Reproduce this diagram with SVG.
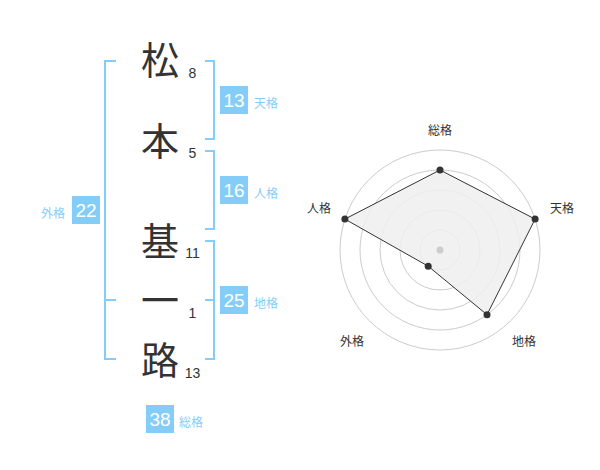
<svg xmlns="http://www.w3.org/2000/svg" width="600" height="470" viewBox="0 0 600 470">
<style>
.ch{font-family:"Noto Sans CJK JP","Noto Sans CJK SC",sans-serif;font-size:38px;fill:#333;text-anchor:middle}
.num{font-family:"Liberation Sans",Arial,sans-serif;font-size:14px;fill:#333;text-anchor:middle}
.br{fill:none;stroke:#85cdf9;stroke-width:2}
.box{fill:#85cdf9}
.bt{font-family:"Liberation Sans",Arial,sans-serif;font-size:19px;fill:#fff;text-anchor:middle}
.lb{font-family:"Noto Sans CJK JP","Noto Sans CJK SC",sans-serif;font-size:12px;fill:#85cdf9}
.ring{fill:none;stroke:#ccc;stroke-width:1}
.rl{font-family:"Noto Sans CJK JP","Noto Sans CJK SC",sans-serif;font-size:12px;fill:#333;text-anchor:middle}
</style>
<rect width="600" height="470" fill="#fff"/>
<g id="chars">
<text class="ch" x="160" y="74">松</text>
<text class="ch" x="160" y="155">本</text>
<text class="ch" x="160" y="255">基</text>
<text class="ch" x="160" y="314">一</text>
<text class="ch" x="160" y="374">路</text>
</g>
<g id="strokes">
<text class="num" x="192.5" y="78">8</text>
<text class="num" x="192.5" y="158">5</text>
<text class="num" x="192.5" y="258">11</text>
<text class="num" x="192.5" y="318">1</text>
<text class="num" x="192.5" y="378">13</text>
</g>
<g id="connectors">
<path class="br" d="M116,61 H105 V359 H116 M105,300 H116"/>
<path class="br" d="M205,61 H214 V139 H205"/>
<path class="br" d="M205,151 H214 V229 H205"/>
<path class="br" d="M205,241 H214 V359 H205 M205,300 H214"/>
</g>
<g id="tenkaku">
<rect class="box" x="220" y="86" width="28" height="28"/>
<text class="bt" x="234" y="107">13</text>
<text class="lb" x="254" y="108">天格</text>
</g>
<g id="jinkaku">
<rect class="box" x="220" y="176" width="28" height="28"/>
<text class="bt" x="234" y="197">16</text>
<text class="lb" x="254" y="198">人格</text>
</g>
<g id="chikaku">
<rect class="box" x="220" y="286" width="28" height="28"/>
<text class="bt" x="234" y="307">25</text>
<text class="lb" x="254" y="308">地格</text>
</g>
<g id="gaikaku">
<rect class="box" x="72" y="196" width="28" height="28"/>
<text class="bt" x="86" y="217">22</text>
<text class="lb" x="41" y="218">外格</text>
</g>
<g id="soukaku">
<rect class="box" x="146" y="405" width="28" height="28"/>
<text class="bt" x="160" y="426">38</text>
<text class="lb" x="179" y="427">総格</text>
</g>
<g id="radar">
<circle class="ring" cx="440" cy="250" r="20"/>
<circle class="ring" cx="440" cy="250" r="40"/>
<circle class="ring" cx="440" cy="250" r="60"/>
<circle class="ring" cx="440" cy="250" r="80"/>
<circle class="ring" cx="440" cy="250" r="100"/>
<polygon points="440,170 535.1,219.1 487,314.7 428.2,266.2 344.9,219.1" fill="#eeeeee" fill-opacity="0.85" stroke="#333" stroke-width="1"/>
<circle cx="440" cy="250" r="3.5" fill="#ccc"/>
<circle cx="440" cy="170" r="3.5" fill="#333"/>
<circle cx="535.1" cy="219.1" r="3.5" fill="#333"/>
<circle cx="487" cy="314.7" r="3.5" fill="#333"/>
<circle cx="428.2" cy="266.2" r="3.5" fill="#333"/>
<circle cx="344.9" cy="219.1" r="3.5" fill="#333"/>
<text class="rl" x="440" y="135">総格</text>
<text class="rl" x="562" y="213">天格</text>
<text class="rl" x="319" y="213">人格</text>
<text class="rl" x="352" y="346">外格</text>
<text class="rl" x="524" y="346">地格</text>
</g>
</svg>
